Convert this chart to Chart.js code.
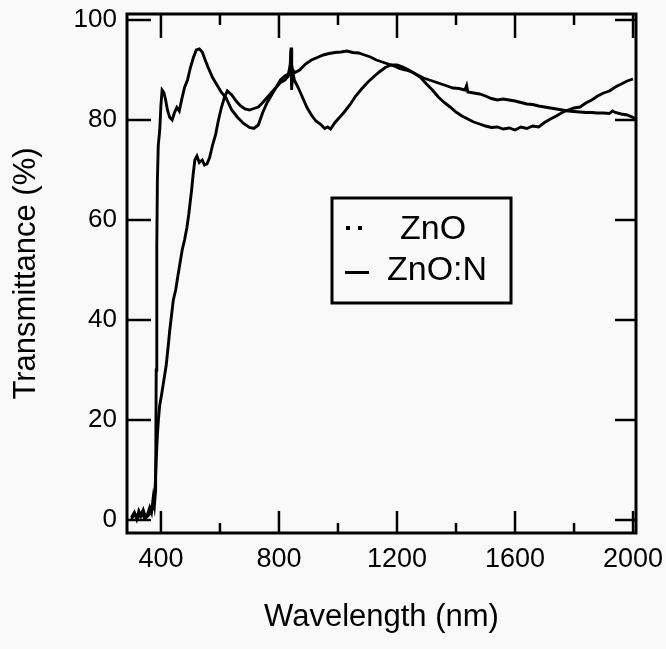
<!DOCTYPE html>
<html>
<head>
<meta charset="utf-8">
<title>Transmittance</title>
<script src="https://cdn.jsdelivr.net/npm/chart.js@4.4.1/dist/chart.umd.min.js"></script>
<style>
  html, body { margin: 0; padding: 0; background: #f9f9f9; }
  #wrap { width: 666px; height: 649px; position: relative; }
</style>
</head>
<body>
<div id="wrap"><canvas id="chart"></canvas></div>
<script>
// wavelength (nm) / transmittance (%)
const znoWl = [300, 310, 318, 325, 332, 340, 348, 355, 362, 368, 374, 378, 382, 384, 386, 388, 391, 396, 400, 404,
  410, 416, 422, 430, 438, 446, 454, 462, 470, 480, 490, 500, 510, 520, 530, 540, 550, 560, 575, 590,
  605, 620, 640, 660, 680, 700, 715, 730, 745, 760, 775, 790, 805, 820, 832, 838, 841, 843, 846, 852,
  865, 880, 895, 910, 925, 940, 955, 965, 975, 990, 1005, 1020, 1040, 1060, 1080, 1100, 1120, 1140, 1160, 1180,
  1200, 1220, 1240, 1260, 1280, 1300, 1320, 1340, 1360, 1380, 1400, 1420, 1440, 1460, 1480, 1500, 1520, 1540, 1560, 1580,
  1600, 1620, 1640, 1660, 1680, 1700, 1720, 1740, 1760, 1780, 1800, 1820, 1840, 1860, 1880, 1900, 1920, 1940, 1960, 1980, 2000];
const znoT = [0.5, 1.5, 0.2, 1.8, 0.8, 2.0, 0.5, 1.2, 2.5, 1.5, 4.5, 3.0, 6, 30, 55, 68, 75, 78, 83, 86,
  85.5, 84, 82, 80.5, 80, 81.5, 82.5, 81.8, 84, 86.5, 88, 90.5, 92.5, 94, 94.2, 93.6, 92, 90.5, 88.5, 87,
  85.5, 84.5, 82, 80.5, 79.3, 78.5, 78.3, 79, 81.5, 83.5, 85, 86.5, 87.5, 88, 88.8, 90, 94.5, 86, 90, 88,
  86.5, 84.5, 82.5, 81, 79.8, 79.2, 78.3, 78.6, 78.2, 79.5, 80.5, 81.5, 83, 84.8, 86.2, 87.5, 88.6, 89.6, 90.5, 91,
  91, 90.6, 90, 89.3, 88.5, 87.2, 86, 84.6, 83.5, 82.6, 81.6, 80.8, 80.2, 79.6, 79.2, 78.8, 78.5, 78.6, 78.2, 78.4,
  78, 78.6, 78.3, 78.8, 78.6, 79.5, 80.2, 80.8, 81.5, 82, 82.4, 82.6, 83.4, 84, 84.8, 85.4, 85.8, 86.6, 87.2, 87.8, 88.2];

const znonWl = [300, 312, 322, 335, 345, 356, 366, 374, 380, 384, 388, 392, 396, 402, 410, 418, 425, 430, 436, 442,
  450, 458, 465, 472, 480, 488, 494, 499, 504, 509, 515, 522, 530, 540, 548, 556, 565, 575, 585, 595,
  605, 615, 625, 640, 655, 670, 685, 700, 715, 730, 745, 760, 775, 790, 805, 820, 832, 838, 841, 843,
  847, 855, 870, 890, 910, 930, 950, 970, 990, 1010, 1030, 1050, 1070, 1090, 1110, 1130, 1150, 1170, 1190, 1210,
  1230, 1250, 1270, 1290, 1310, 1330, 1350, 1370, 1390, 1410, 1430, 1436, 1440, 1460, 1480, 1500, 1520, 1540, 1560, 1580,
  1600, 1620, 1640, 1660, 1680, 1700, 1720, 1740, 1760, 1780, 1800, 1820, 1840, 1860, 1880, 1900, 1920, 1930, 1940, 1960,
  1980, 2000, 2008];
const znonT = [0.2, 1.2, 0.5, 1.5, 0.3, 0.8, 1.6, 2.5, 6, 12, 17, 20.5, 23, 25, 28, 31, 35, 38, 41, 44,
  46, 49, 51.5, 54, 56, 58.5, 61, 63.5, 66, 69, 72, 72.8, 71.5, 72, 71, 71.2, 72.5, 75, 77, 80,
  82.5, 84.5, 85.8, 85, 83.8, 82.8, 82.2, 82, 82.3, 82.6, 83.5, 84.5, 85.5, 86.5, 88, 88.8, 89.2, 91, 94, 87,
  90, 89.5, 90, 91.2, 92, 92.5, 93, 93.3, 93.5, 93.6, 93.8, 93.5, 93.4, 93, 92.6, 92, 91.6, 91.2, 90.8, 90.3,
  90, 89.6, 89, 88.4, 88, 87.6, 87.2, 86.8, 86.4, 86.3, 86, 86.9, 85.6, 85.4, 85.2, 84.8, 84.3, 84, 84.2, 84,
  83.8, 83.5, 83.2, 83.1, 82.8, 82.6, 82.4, 82.2, 82, 81.8, 81.7, 81.6, 81.5, 81.5, 81.4, 81.4, 81.3, 81.8, 81.5, 81.2,
  81, 80.5, 80];

const xMajor = [400, 800, 1200, 1600, 2000];
const xMinor = [600, 1000, 1400, 1800];
const yMajor = [0, 20, 40, 60, 80, 100];

const FONT = "'Liberation Sans', Arial, sans-serif";

function toPoints(xs, ys){
  return xs.map((v, i) => ({ x: v, y: ys[i] }));
}

// inward ticks + heavy frame, drawn over the data like the original plot
const frameTicks = {
  id: 'frameTicks',
  afterDatasetsDraw(chart){
    const { ctx, chartArea: a, scales: { x, y } } = chart;
    ctx.save();
    ctx.strokeStyle = '#000';
    ctx.lineWidth = 2.5;
    const seg = (x1, y1, x2, y2) => { ctx.beginPath(); ctx.moveTo(x1, y1); ctx.lineTo(x2, y2); ctx.stroke(); };
    xMajor.forEach(v => {
      const px = x.getPixelForValue(v);
      seg(px, a.bottom, px, a.bottom - 22);
      seg(px, a.top, px, a.top + 24);
    });
    xMinor.forEach(v => {
      const px = x.getPixelForValue(v);
      seg(px, a.bottom, px, a.bottom - 10);
      seg(px, a.top, px, a.top + 11);
    });
    yMajor.forEach(v => {
      const py = y.getPixelForValue(v);
      seg(a.left, py, a.left + 24, py);
      seg(a.right, py, a.right - 21, py);
    });
    ctx.lineWidth = 3;
    ctx.strokeRect(a.left, a.top, a.right - a.left, a.bottom - a.top);
    ctx.restore();
  }
};

// boxed legend sitting inside the plot
const boxLegend = {
  id: 'boxLegend',
  afterDraw(chart){
    const { ctx } = chart;
    const ds = chart.data.datasets;
    ctx.save();
    ctx.fillStyle = '#f9f9f9';
    ctx.fillRect(332, 198, 179, 105);
    ctx.strokeStyle = '#000';
    ctx.lineWidth = 3;
    ctx.strokeRect(332, 198, 179, 105);
    ctx.fillStyle = '#000';
    // dotted symbol
    ctx.fillRect(346, 226, 4, 4);
    ctx.fillRect(358, 226, 4, 4);
    // solid symbol
    ctx.fillRect(345, 271, 24, 3);
    ctx.font = '34px ' + FONT;
    ctx.textBaseline = 'middle';
    ctx.textAlign = 'left';
    ctx.fillText(ds[0].label, 400, 230);
    ctx.fillText(ds[1].label, 387, 271);
    ctx.restore();
  }
};

new Chart(document.getElementById('chart'), {
  type: 'line',
  data: {
    datasets: [
      { label: 'ZnO', data: toPoints(znoWl, znoT), borderColor: '#000', borderWidth: 2.9, pointRadius: 0, tension: 0 },
      { label: 'ZnO:N', data: toPoints(znonWl, znonT), borderColor: '#000', borderWidth: 2.9, pointRadius: 0, tension: 0 }
    ]
  },
  options: {
    responsive: true,
    maintainAspectRatio: false,
    animation: false,
    layout: { padding: { top: 14, right: 30, left: 0, bottom: 0 } },
    plugins: { legend: { display: false }, tooltip: { enabled: false } },
    scales: {
      x: {
        type: 'linear',
        min: 285,
        max: 2010,
        afterFit(s){ s.height = 116; s.paddingLeft = 0; s.paddingRight = 0; },
        afterBuildTicks(s){ s.ticks = xMajor.map(v => ({ value: v })); },
        grid: { display: false, drawTicks: false },
        border: { display: false },
        ticks: { color: '#000', padding: 10, font: { family: FONT, size: 27 }, maxRotation: 0, callback: v => String(v) },
        title: { display: true, text: 'Wavelength (nm)', color: '#000', font: { family: FONT, size: 31 }, padding: { top: 0, bottom: 13 } }
      },
      y: {
        type: 'linear',
        min: -2.6,
        max: 101.2,
        afterFit(s){ s.width = 127; s.paddingTop = 0; s.paddingBottom = 0; },
        afterBuildTicks(s){ s.ticks = yMajor.map(v => ({ value: v })); },
        grid: { display: false, drawTicks: false },
        border: { display: false },
        ticks: { color: '#000', padding: 10, font: { family: FONT, size: 26 }, callback: v => String(v) },
        title: { display: true, text: 'Transmittance (%)', color: '#000', font: { family: FONT, size: 31 }, padding: { top: 8, bottom: 0 } }
      }
    }
  },
  plugins: [frameTicks, boxLegend]
});
</script>
</body>
</html>
